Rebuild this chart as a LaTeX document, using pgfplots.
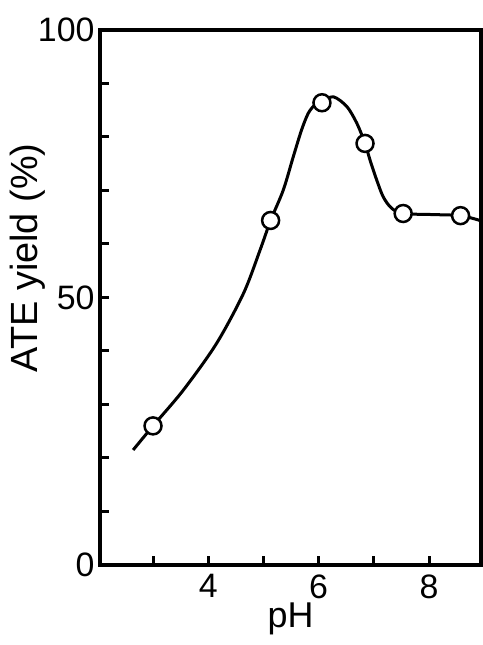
\documentclass[border=0pt]{standalone}
\usepackage{fontspec}
\setmainfont{Liberation Sans}
\usepackage{pgfplots}
\pgfplotsset{compat=1.18}
\begin{document}
\begin{tikzpicture}
\begin{axis}[
  name=ax, at={(0,0)}, anchor=south west,
  scale only axis, width=381bp, height=535bp,
  xmin=2.04, xmax=8.94, ymin=0, ymax=100,
  axis line style={line width=3.2bp},
  xtick={4,6,8}, minor xtick={3,5,7},
  ytick={0,50,100}, minor ytick={10,20,30,40,60,70,80,90},
  tick pos=left, tick align=inside,
  major tick length=9bp, minor tick length=9bp,
  every tick/.append style={line width=3bp, black},
  every minor tick/.append style={line width=3bp, black},
  /pgf/number format/assume math mode=true,
  ticklabel style={font=\fontsize{34}{40}\selectfont},
  xticklabel style={yshift=-6bp},
  yticklabel style={xshift=-2bp},
  xlabel={pH}, ylabel={ATE yield (\%)},
  label style={font=\fontsize{38}{44}\selectfont},
  xlabel style={font=\fontsize{36}{40}\selectfont, at={(axis description cs:0.5,0)}, anchor=north, yshift=-37bp, inner sep=1bp},
  ylabel style={at={(axis description cs:-0.19,0.574)}, anchor=center},
]
\addplot[black, line width=3bp, smooth, tension=0.5] coordinates {
 (2.64,21.5) (3.0,26.0) (3.55,32.7) (4.15,41.4) (4.64,50.8) (4.94,58.9)
 (5.13,64.4) (5.36,70.1) (5.54,76.3) (5.69,81.3) (5.81,84.4) (5.93,86.0)
 (6.06,86.7) (6.27,87.5) (6.51,85.7) (6.69,82.6) (6.84,78.8) (6.93,75.7)
 (7.05,72.0) (7.17,68.8) (7.32,66.7) (7.53,65.7) (8.07,65.5) (8.57,65.3)
 (8.92,64.4)
};
\addplot[only marks, mark=*, mark size=8.5bp, mark options={fill=white, draw=black, line width=2.5bp}] coordinates {
 (3.0,26.0) (5.13,64.4) (6.06,86.4) (6.84,78.8) (7.53,65.7) (8.57,65.3)
};
\end{axis}
\pgfresetboundingbox
\useasboundingbox (-100bp,-80bp) rectangle (383bp,565bp);
\end{tikzpicture}
\end{document}
